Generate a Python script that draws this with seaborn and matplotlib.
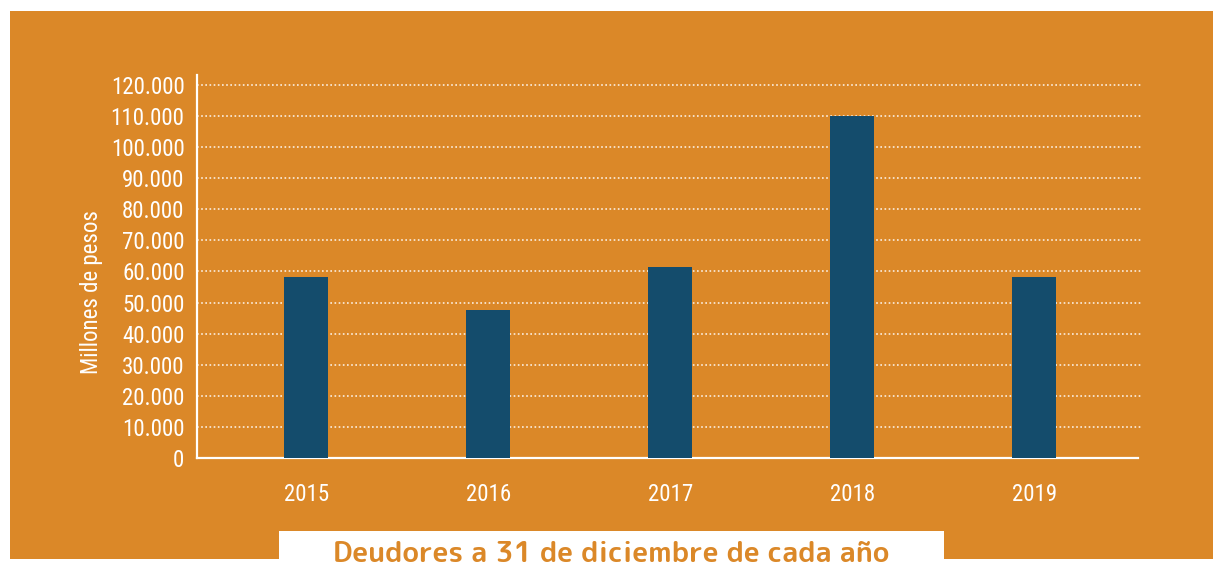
import matplotlib
matplotlib.use("Agg")
import matplotlib.pyplot as plt
import seaborn as sns
import pandas as pd
from matplotlib.patches import Rectangle
from matplotlib.ticker import FuncFormatter

years = ["2015", "2016", "2017", "2018", "2019"]
deudores = [58300, 47600, 61500, 110000, 58300]
y_ticks = [0, 10000, 20000, 30000, 40000, 50000, 60000, 70000, 80000, 90000, 100000, 110000, 120000]

ORANGE = "#DB8828"
NAVY = "#144C6C"
W, H = 1220, 567

sns.set_theme(style="white")
plt.rcParams['font.family'] = ['Roboto Condensed', 'DejaVu Sans']

fig = plt.figure(figsize=(W / 100, H / 100), dpi=100, facecolor="white")

# orange panel
fig.patches.append(Rectangle((10 / W, 1 - 559 / H), (1213 - 10) / W, (559 - 11) / H,
                             transform=fig.transFigure, facecolor=ORANGE, edgecolor="none", zorder=-10))
# white title box
fig.patches.append(Rectangle((279 / W, 0), (944 - 279) / W, (567 - 531) / H,
                             transform=fig.transFigure, facecolor="white", edgecolor="none", zorder=-9))

ax = fig.add_axes([197 / W, 1 - 458 / H, (1138 - 197) / W, (458 - 75) / H])
ax.set_facecolor("none")
ax.set_zorder(1)

df = pd.DataFrame({"year": years, "value": deudores})
sns.barplot(data=df, x="year", y="value", color=NAVY, width=0.24, saturation=1,
            linewidth=0, ax=ax, zorder=3)

ax.set_xlim(-0.6, 4.57)
ax.set_ylim(0, 123200)
ax.set_yticks(y_ticks)
ax.yaxis.set_major_formatter(FuncFormatter(lambda v, p: f"{int(v):,}".replace(",", ".")))

for t in y_ticks[1:]:
    ax.axhline(t, color="white", lw=1.2, ls=(0, (1, 1.5)), alpha=0.85, zorder=1, xmax=1.003, clip_on=False)

for s in ["top", "right"]:
    ax.spines[s].set_visible(False)
for s in ["left", "bottom"]:
    ax.spines[s].set_color("white")
    ax.spines[s].set_linewidth(1.6)

ax.tick_params(axis="both", length=0, colors="white", labelsize=16.5)
ax.tick_params(axis="y", pad=9)
ax.tick_params(axis="x", pad=18)
ax.set_xlabel("")
ax.set_ylabel("Millones de pesos", color="white", fontsize=16.5)
ax.yaxis.set_label_coords(-0.1, 0.433)

fig.text(611 / W, 1 - 554 / H, "Deudores a 31 de diciembre de cada año", color=ORANGE,
         fontsize=20.5, fontweight="bold", family=["Rounded Mplus 1c Bold", "DejaVu Sans"],
         ha="center", va="center")

fig.savefig("out.png", dpi=100, facecolor="white")
